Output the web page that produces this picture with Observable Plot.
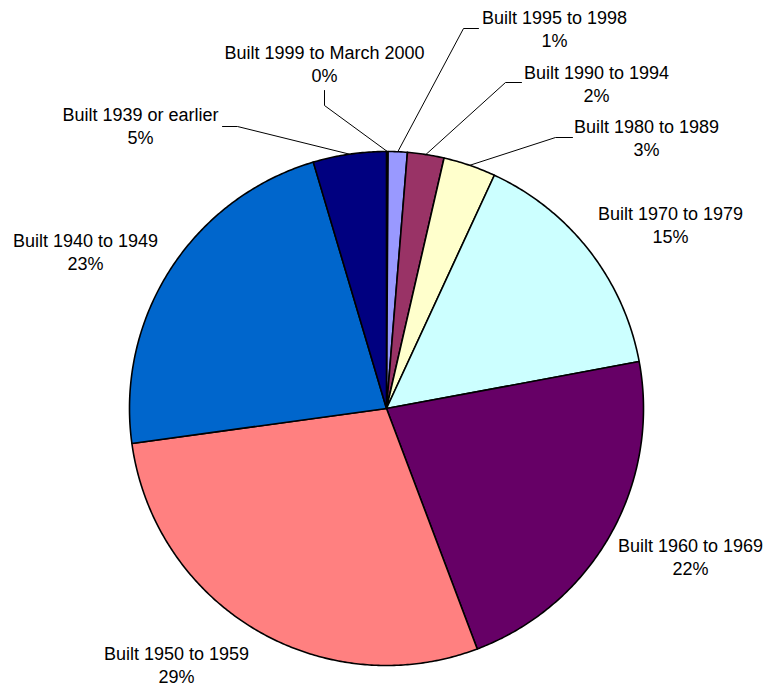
<!DOCTYPE html>
<html>
<head>
<meta charset="utf-8">
<script src="https://cdn.jsdelivr.net/npm/d3@7"></script>
<script src="https://cdn.jsdelivr.net/npm/@observablehq/plot@0.6"></script>
<style>
  html, body { margin: 0; padding: 0; background: #fff; }
  #chart svg { display: block; }
</style>
</head>
<body>
<div id="chart"></div>
<script>
// ---- data (clockwise from 12 o'clock) ----
const categories = [
  "Built 1999 to March 2000",
  "Built 1995 to 1998",
  "Built 1990 to 1994",
  "Built 1980 to 1989",
  "Built 1970 to 1979",
  "Built 1960 to 1969",
  "Built 1950 to 1959",
  "Built 1940 to 1949",
  "Built 1939 or earlier"
];
const shares = [0.1, 1.2, 2.3, 3.3, 15.2, 22.2, 28.6, 22.6, 4.6];
const colors = ["#CCCCFF", "#9999FF", "#993366", "#FFFFCC", "#CCFFFF", "#660066", "#FF8080", "#0066CC", "#000080"];

// ---- layout (label placement, offsets from pie centre in radius-pixel units, y up) ----
const R = 257;
const labelLayout = [
  {text: [-62, 345], leader: [[-62, 303], [-62, 318]]},
  {text: [168, 380], leader: [[77, 380], [92, 380]]},
  {text: [210, 325.5], leader: [[119, 326], [135, 326]]},
  {text: [260, 271], leader: [[169, 271], [186, 271]]},
  {text: [284, 184], leader: null},
  {text: [304, -148], leader: null},
  {text: [-210, -255.5], leader: null},
  {text: [-301, 157], leader: null},
  {text: [-246, 283], leader: [[-149, 282], [-164, 282]]}
];

// ---- build slices ----
const total = d3.sum(shares);
const slices = [];
let cum = 0;
categories.forEach((name, i) => {
  const a0 = cum / total * 2 * Math.PI;
  cum += shares[i];
  const a1 = cum / total * 2 * Math.PI;
  slices.push({name, value: shares[i], color: colors[i], a0, a1, mid: (a0 + a1) / 2, i});
});

const polyPts = [];
for (const s of slices) {
  polyPts.push({name: s.name, color: s.color, x: 0, y: 0});
  const n = Math.max(2, Math.ceil((s.a1 - s.a0) / (Math.PI / 360)));
  for (let k = 0; k <= n; k++) {
    const a = s.a0 + (s.a1 - s.a0) * k / n;
    polyPts.push({name: s.name, color: s.color, x: R * Math.sin(a), y: R * Math.cos(a)});
  }
  polyPts.push({name: s.name, color: s.color, x: 0, y: 0});
}

const leaderPts = [];
const labels = [];
slices.forEach((s, i) => {
  const L = labelLayout[i];
  const pct = Math.round(s.value / total * 100) + "%";
  labels.push({x: L.text[0], y: L.text[1], label: s.name + "\n" + pct});
  if (L.leader) {
    leaderPts.push({z: s.name, x: R * Math.sin(s.mid), y: R * Math.cos(s.mid)});
    for (const p of L.leader) leaderPts.push({z: s.name, x: p[0], y: p[1]});
  }
});

const plot = Plot.plot({
  width: 766,
  height: 688,
  margin: 0,
  style: {background: "#fff", fontFamily: "'Liberation Sans', Arial, sans-serif"},
  x: {domain: [-R, R], range: [386 - R, 386 + R], axis: null},
  y: {domain: [-R, R], range: [408 + R, 408 - R], axis: null},
  color: {type: "identity"},
  marks: [
    Plot.line(polyPts, {x: "x", y: "y", z: "name", fill: "color", stroke: "#000", strokeWidth: 1.6, strokeLinejoin: "round", curve: "linear"}),
    Plot.line(leaderPts, {x: "x", y: "y", z: "z", stroke: "#000", strokeWidth: 1}),
    Plot.text(labels, {x: "x", y: "y", text: "label", fontSize: 18, lineHeight: 1.28, lineAnchor: "middle", textAnchor: "middle", fill: "#000", fontFamily: "'Liberation Sans', Arial, sans-serif"})
  ]
});
document.getElementById("chart").appendChild(plot);
</script>
</body>
</html>
